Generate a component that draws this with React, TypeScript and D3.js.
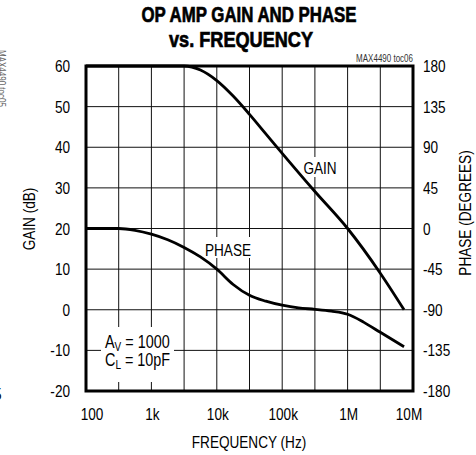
import React, { useMemo } from 'react';
import * as d3 from 'd3';

const WIDTH = 476;
const HEIGHT = 455;

// frequency axis (Hz), log
const freqTicks = [100, 1e3, 1e4, 1e5, 1e6, 1e7];
const freqLabels = ['100', '1k', '10k', '100k', '1M', '10M'];
const gainTicks = [-20, -10, 0, 10, 20, 30, 40, 50, 60];
const phaseTicks = [-180, -135, -90, -45, 0, 45, 90, 135, 180];

// GAIN (dB) vs frequency
const gainFreq = [100, 1000, 3162, 5623, 10000, 17780, 31620, 56230, 100000, 316200, 1e6, 3.162e6, 7.3e6];
const gainDb = [60, 60, 60, 59, 56.4, 52.6, 48.1, 43.3, 38.5, 29.1, 20, 9, 0];

// PHASE (degrees) vs frequency
const phaseFreq = [
  100, 316, 562, 1000, 1778, 3162, 5623, 10000, 17780, 31620, 56230, 100000, 177800, 316200, 562300, 1e6,
  1.778e6, 3.162e6, 7.3e6,
];
const phaseDeg = [
  0, 0, -2, -6.3, -12.5, -21, -31.5, -45, -62, -74, -80.5, -85, -88, -89.5, -91.5, -95, -104, -115, -131,
];

const FONT = '"Liberation Sans", Arial, Helvetica, sans-serif';
const SX = 0.8; // narrow the face to look like a condensed Helvetica

const margin = { l: 86, r: WIDTH - 413, t: 66, b: HEIGHT - 391 };

type TxtProps = {
  x: number;
  y: number;
  size?: number;
  anchor?: 'start' | 'middle' | 'end';
  rotate?: number;
  sx?: number;
  fill?: string;
  children: React.ReactNode;
};

// text drawn with a horizontal squeeze
const Txt = ({ x, y, size = 17, anchor = 'start', rotate = 0, sx = SX, fill = '#000', children }: TxtProps) => (
  <text
    transform={`translate(${x},${y}) rotate(${rotate}) scale(${sx},1)`}
    fontSize={size}
    textAnchor={anchor}
    fill={fill}
  >
    {children}
  </text>
);

const App = () => {
  const x0 = margin.l;
  const x1 = WIDTH - margin.r;
  const y0 = margin.t;
  const y1 = HEIGHT - margin.b;

  const xScale = useMemo(() => d3.scaleLog().domain([100, 1e7]).range([x0, x1]), [x0, x1]);
  const gainScale = useMemo(() => d3.scaleLinear().domain([-20, 60]).range([y1, y0]), [y0, y1]);
  const phaseScale = useMemo(() => d3.scaleLinear().domain([-180, 180]).range([y1, y0]), [y0, y1]);

  // half-decade grid
  const xGrid = d3.range(0, 11).map((k) => 10 ** (2 + k / 2));

  const gainPath = d3
    .line<number>()
    .x((d, i) => xScale(gainFreq[i]))
    .y((d) => gainScale(d))
    .curve(d3.curveMonotoneX)(gainDb) as string;

  const phasePath = d3
    .line<number>()
    .x((d, i) => xScale(phaseFreq[i]))
    .y((d) => phaseScale(d))
    .curve(d3.curveMonotoneX)(phaseDeg) as string;

  return (
    <svg
      width={WIDTH}
      height={HEIGHT}
      viewBox={`0 0 ${WIDTH} ${HEIGHT}`}
      style={{ position: 'absolute', left: 0, top: 0, background: '#fff' }}
      fontFamily={FONT}
    >
      {/* title */}
      <text
        x={249}
        y={22}
        textAnchor="middle"
        fontSize={22}
        fontWeight="bold"
        stroke="#000"
        strokeWidth={0.7}
        textLength={215}
        lengthAdjust="spacingAndGlyphs"
      >
        OP AMP GAIN AND PHASE
      </text>
      <text
        x={241}
        y={47}
        textAnchor="middle"
        fontSize={22}
        fontWeight="bold"
        stroke="#000"
        strokeWidth={0.7}
        textLength={144}
        lengthAdjust="spacingAndGlyphs"
      >
        vs. FREQUENCY
      </text>
      <Txt x={x1} y={62} size={10} anchor="end" fill="#333">
        MAX4490 toc06
      </Txt>
      {/* clipped neighbour fragments */}
      <Txt x={-2} y={50} size={10} rotate={90} fill="#666">
        MAX4490 toc05
      </Txt>
      <Txt x={-6} y={400} size={17}>
        5
      </Txt>

      {/* grid */}
      <g stroke="#111" strokeWidth={1}>
        {xGrid.map((f, i) => (
          <line key={`vx-${i}`} x1={xScale(f)} x2={xScale(f)} y1={y0} y2={y1} />
        ))}
        {gainTicks.map((g) => (
          <line key={`hy-${g}`} x1={x0} x2={x1} y1={gainScale(g)} y2={gainScale(g)} />
        ))}
      </g>

      {/* label backgrounds */}
      <rect x={302} y={157} width={37} height={20} fill="#fff" />
      <rect x={203} y={237} width={49} height={21} fill="#fff" />
      <rect x={101} y={327} width={73} height={55} fill="#fff" />

      {/* curves */}
      <path d={gainPath} fill="none" stroke="#000" strokeWidth={2.8} />
      <path d={phasePath} fill="none" stroke="#000" strokeWidth={2.8} />

      {/* frame */}
      <rect x={x0} y={y0} width={x1 - x0} height={y1 - y0} fill="none" stroke="#000" strokeWidth={3} />

      {/* curve labels */}
      <Txt x={320} y={174} anchor="middle">
        GAIN
      </Txt>
      <Txt x={228} y={256} anchor="middle">
        PHASE
      </Txt>
      <Txt x={105} y={348} size={18}>
        A<tspan fontSize={12.5} dy={3}>V</tspan>
        <tspan dy={-3}> = 1000</tspan>
      </Txt>
      <Txt x={105} y={366} size={18}>
        C<tspan fontSize={12.5} dy={3}>L</tspan>
        <tspan dy={-3}> = 10pF</tspan>
      </Txt>

      {/* left axis */}
      {gainTicks.map((g) => (
        <Txt key={`gl-${g}`} x={70} y={gainScale(g) + 6} anchor="end">
          {g}
        </Txt>
      ))}
      {/* right axis */}
      {phaseTicks.map((p) => (
        <Txt key={`pl-${p}`} x={423} y={phaseScale(p) + 6}>
          {p}
        </Txt>
      ))}
      {/* bottom axis */}
      {freqTicks.map((f, i) => (
        <Txt
          key={`fl-${f}`}
          x={xScale(f) + (i === 0 ? 6 : i === freqTicks.length - 1 ? -4 : 1)}
          y={420}
          anchor="middle"
        >
          {freqLabels[i]}
        </Txt>
      ))}

      <Txt x={249} y={448} anchor="middle">
        FREQUENCY (Hz)
      </Txt>
      <Txt x={35} y={219} anchor="middle" rotate={-90}>
        GAIN (dB)
      </Txt>
      <Txt x={471} y={213} anchor="middle" rotate={-90}>
        PHASE (DEGREES)
      </Txt>
    </svg>
  );
};

export default App;
